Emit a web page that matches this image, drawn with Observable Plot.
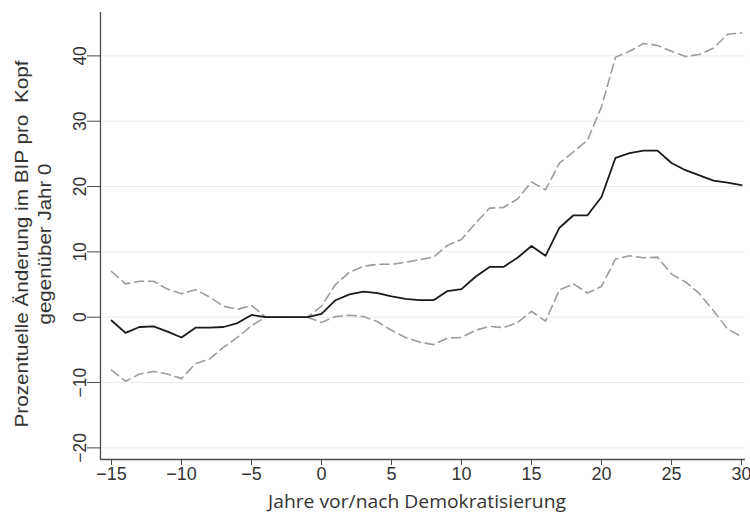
<!DOCTYPE html>
<html>
<head>
<meta charset="utf-8">
<script src="https://cdn.jsdelivr.net/npm/d3@7"></script>
<script src="https://cdn.jsdelivr.net/npm/@observablehq/plot@0.6"></script>
<style>
  html, body { margin: 0; padding: 0; background: #fff; }
  #chart svg { display: block; }
</style>
</head>
<body>
<div id="chart"></div>
<script>
const years = d3.range(-15, 31);
const estimate = [-0.5,-2.4,-1.5,-1.4,-2.2,-3.1,-1.6,-1.6,-1.5,-0.9,0.35,0,0,0,0,
  0.5,2.6,3.5,3.9,3.7,3.2,2.8,2.6,2.6,4.0,4.3,6.2,7.7,7.7,9.1,10.9,9.4,13.7,15.6,15.6,18.4,
  24.4,25.1,25.5,25.5,23.6,22.5,21.7,20.9,20.6,20.2];
const upper = [7.0,5.1,5.5,5.5,4.3,3.6,4.2,3.1,1.7,1.2,1.8,0,0,0,0,
  1.7,5.0,6.9,7.8,8.1,8.1,8.4,8.8,9.2,11.0,11.9,14.4,16.7,16.8,18.1,20.7,19.5,23.6,25.3,27.1,32.2,
  39.8,40.7,41.9,41.6,40.7,39.9,40.2,41.2,43.3,43.5];
const lower = [-8.1,-9.8,-8.7,-8.3,-8.7,-9.4,-7.1,-6.4,-4.6,-3.1,-1.3,0,0,0,0,
  -0.8,0.1,0.3,0.1,-0.7,-2.0,-3.1,-3.8,-4.2,-3.2,-3.1,-2.0,-1.4,-1.6,-0.8,0.9,-0.6,4.2,5.1,3.7,4.7,
  8.9,9.4,9.1,9.2,6.6,5.4,3.6,1.0,-1.8,-3.0];
const xTicks = [-15,-10,-5,0,5,10,15,20,25,30];
const yTicks = [-20,-10,0,10,20,30,40];
const xDomain = [-15.786, 30.286];
const yDomain = [-21.78, 46.64];
const xTitle = "Jahre vor/nach Demokratisierung";
const yTitle1 = "Prozentuelle Änderung im BIP pro  Kopf";
const yTitle2 = "gegenüber Jahr 0";

const rows = (vals) => years.map((y, i) => ({year: y, value: vals[i]}));
const fmt = d => (d < 0 ? "\u2212" + Math.abs(d) : String(d));
const tickFont = "'Liberation Sans', Arial, sans-serif";

const chart = Plot.plot({
  width: 750,
  height: 520,
  marginLeft: 100,
  marginRight: 5,
  marginTop: 12,
  marginBottom: 61,
  style: {background: "#fff", color: "#333"},
  x: {domain: xDomain, label: null},
  y: {domain: yDomain, label: null},
  marks: [
    Plot.gridY(yTicks, {stroke: "#ebebeb", strokeOpacity: 1, strokeWidth: 1}),
    Plot.ruleX([xDomain[0]], {stroke: "#4a4a4a", strokeWidth: 1.3}),
    Plot.ruleY([yDomain[0]], {stroke: "#4a4a4a", strokeWidth: 1.3}),
    Plot.axisY(yTicks, {tickSize: 13, tickFormat: () => "", stroke: "#4a4a4a", label: null}),
    Plot.text(yTicks, {y: d => d, text: fmt, frameAnchor: "left", textAnchor: "middle", dx: -20, rotate: -90, fontSize: 17.5, fill: "#333", fontFamily: tickFont}),
    Plot.axisX(xTicks, {tickSize: 6, tickPadding: 2, tickFormat: fmt, fontSize: 18, stroke: "#4a4a4a", fill: "#333", fontFamily: tickFont, label: null}),
    Plot.line(rows(upper), {x: "year", y: "value", stroke: "#9c9c9c", strokeWidth: 1.6, strokeDasharray: "9,5"}),
    Plot.line(rows(lower), {x: "year", y: "value", stroke: "#9c9c9c", strokeWidth: 1.6, strokeDasharray: "9,5"}),
    Plot.line(rows(estimate), {x: "year", y: "value", stroke: "#1a1a1a", strokeWidth: 1.8}),
    Plot.text([xTitle], {frameAnchor: "bottom", dx: -6, dy: 48, text: d => d, fontSize: 18, fill: "#333", fontFamily: "'Open Sans', sans-serif"}),
    Plot.text([yTitle1], {frameAnchor: "left", textAnchor: "middle", dx: -78, dy: 8, rotate: -90, text: d => d, fontSize: 18.5, fill: "#333", fontFamily: "'Liberation Sans', Arial, sans-serif"}),
    Plot.text([yTitle2], {frameAnchor: "left", textAnchor: "middle", dx: -55, dy: 8, rotate: -90, text: d => d, fontSize: 18.5, fill: "#333", fontFamily: "'Liberation Sans', Arial, sans-serif"})
  ]
});
// fit title lengths to the reference
const fit = {[xTitle]: 298, [yTitle1]: 367, [yTitle2]: 161};
d3.select(chart).selectAll("text").each(function() {
  const t = this.textContent;
  if (fit[t]) {
    this.setAttribute("textLength", fit[t]);
    this.setAttribute("lengthAdjust", "spacingAndGlyphs");
    this.style.whiteSpace = "pre";
  }
});
document.getElementById("chart").append(chart);
</script>
</body>
</html>
